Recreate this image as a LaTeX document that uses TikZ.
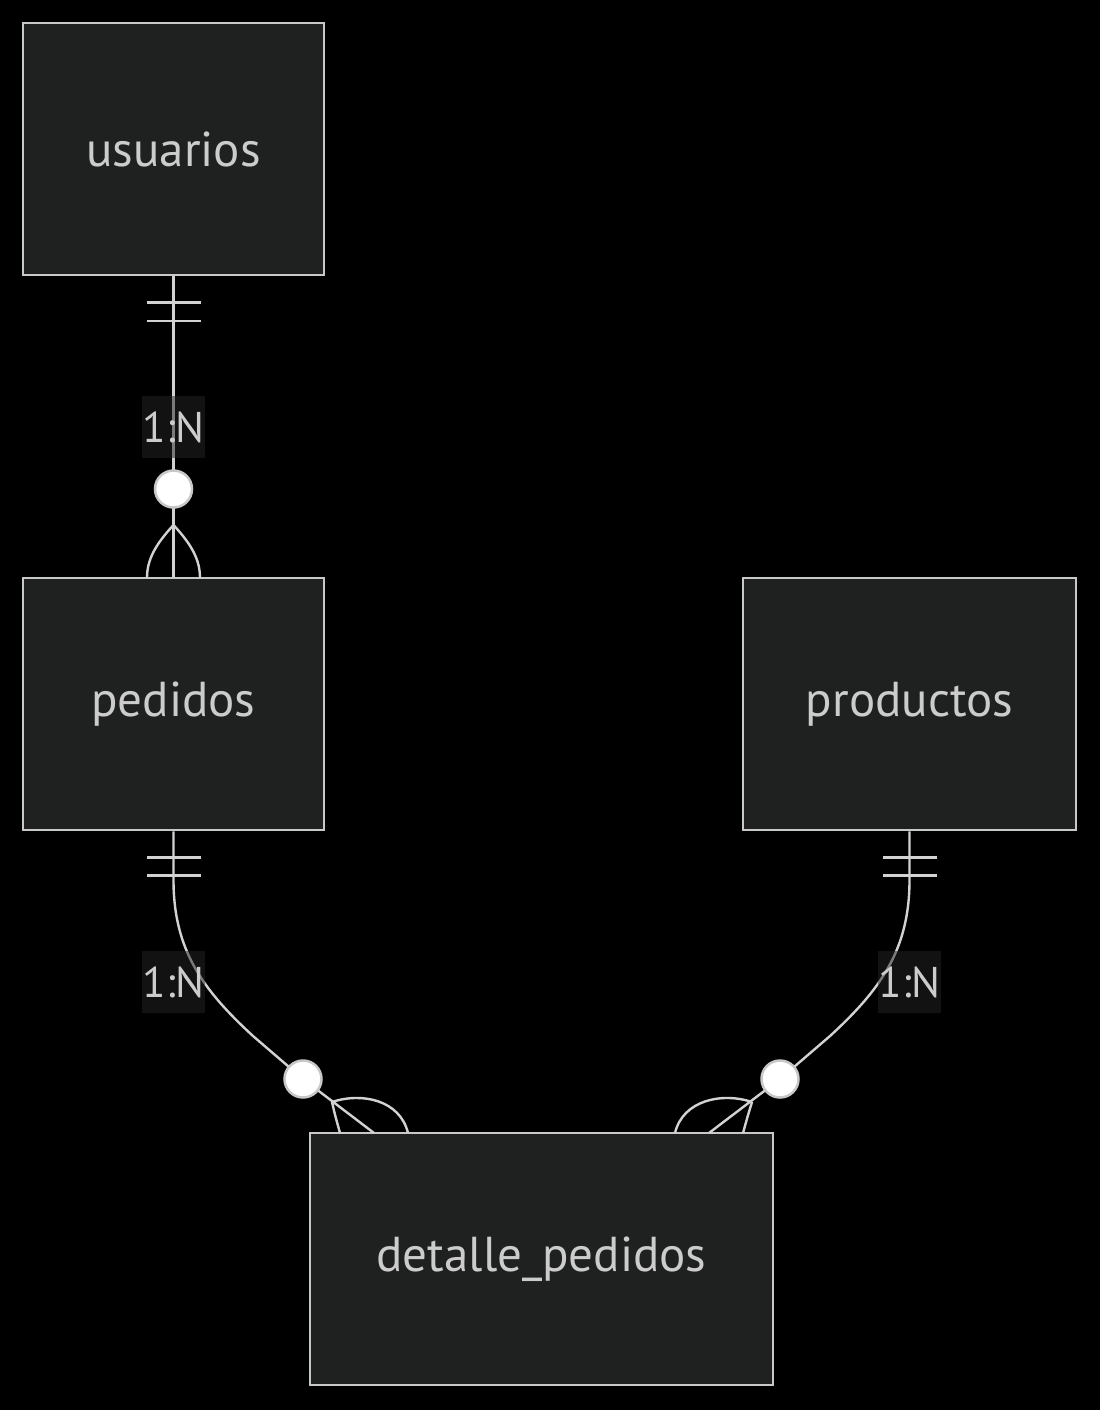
\documentclass[tikz,border=0pt]{standalone}
\usepackage{fontspec}
\setmainfont{PT Sans}
\definecolor{boxfill}{RGB}{31,32,32}
\definecolor{boxline}{RGB}{200,200,200}
\definecolor{txt}{RGB}{204,204,204}
\definecolor{relline}{RGB}{210,210,210}
\definecolor{labbg}{RGB}{36,36,36}
\begin{document}
\begin{tikzpicture}[x=1pt,y=-1pt,
  entity/.style={draw=boxline,fill=boxfill,line width=2.5pt,text=txt,inner sep=0pt,
    font=\fontsize{49}{55}\selectfont},
  rel/.style={draw=relline,line width=2.4pt},
  lab/.style={fill=labbg,fill opacity=0.5,text opacity=1,text=txt,inner sep=0pt,
    minimum width=63pt,minimum height=62pt,font=\fontsize{43}{49}\selectfont},
  zero/.style={circle,draw=boxline,fill=white,line width=2.5pt,minimum size=37pt,inner sep=0pt}]
\fill[black] (0,0) rectangle (1100,1410);
\useasboundingbox (0,0) rectangle (1100,1410);

\node[entity,minimum width=301pt,minimum height=252pt] (usuarios) at (173.5,149) {usuarios};
\node[entity,minimum width=301pt,minimum height=252pt] (pedidos) at (173.5,704) {pedidos};
\node[entity,minimum width=333pt,minimum height=252pt] (productos) at (909.5,704) {productos};
\node[entity,minimum width=463pt,minimum height=252pt] (detalle) at (541.5,1259) {detalle\_pedidos};

\coordinate (c1) at (173.5,489);
\coordinate (c2) at (303,1079);
\coordinate (c3) at (780,1079);
\coordinate (d2) at (374,1133);
\coordinate (d3) at (709,1133);

% usuarios -> pedidos
\draw[rel] (usuarios.south) -- (pedidos.north);
\draw[rel] (147,302.5) -- (201,302.5) (147,321) -- (201,321);
\draw[rel] (173.5,525) .. controls (155,545) and (147,560) .. (147,578)
           (173.5,525) .. controls (192,545) and (200,560) .. (200,578);
\node[lab] (l1) at (173.5,427) {1:N};
\node[zero] (z1) at (c1) {};

% pedidos -> detalle
\draw[rel] (pedidos.south) -- (173.5,880) .. controls (173.5,950) and (203,990) .. (253,1036) -- (c2) -- (d2);
\draw[rel] (147,857.5) -- (201,857.5) (147,875.5) -- (201,875.5);
\draw[rel] (332,1102) .. controls (335,1115) .. (340,1133)
           (332,1102) .. controls (362,1092) and (400,1100) .. (408,1133);
\node[lab] (l2) at (173.5,982) {1:N};
\node[zero] (z2) at (c2) {};

% productos -> detalle
\draw[rel] (productos.south) -- (909.5,880) .. controls (909.5,950) and (880,990) .. (830,1036) -- (c3) -- (d3);
\draw[rel] (883,857.5) -- (937,857.5) (883,875.5) -- (937,875.5);
\draw[rel] (752,1102) .. controls (748,1115) .. (743,1133)
           (752,1102) .. controls (722,1092) and (683,1100) .. (675,1133);
\node[lab] (l3) at (909.5,982) {1:N};
\node[zero] (z3) at (c3) {};
\end{tikzpicture}
\end{document}
